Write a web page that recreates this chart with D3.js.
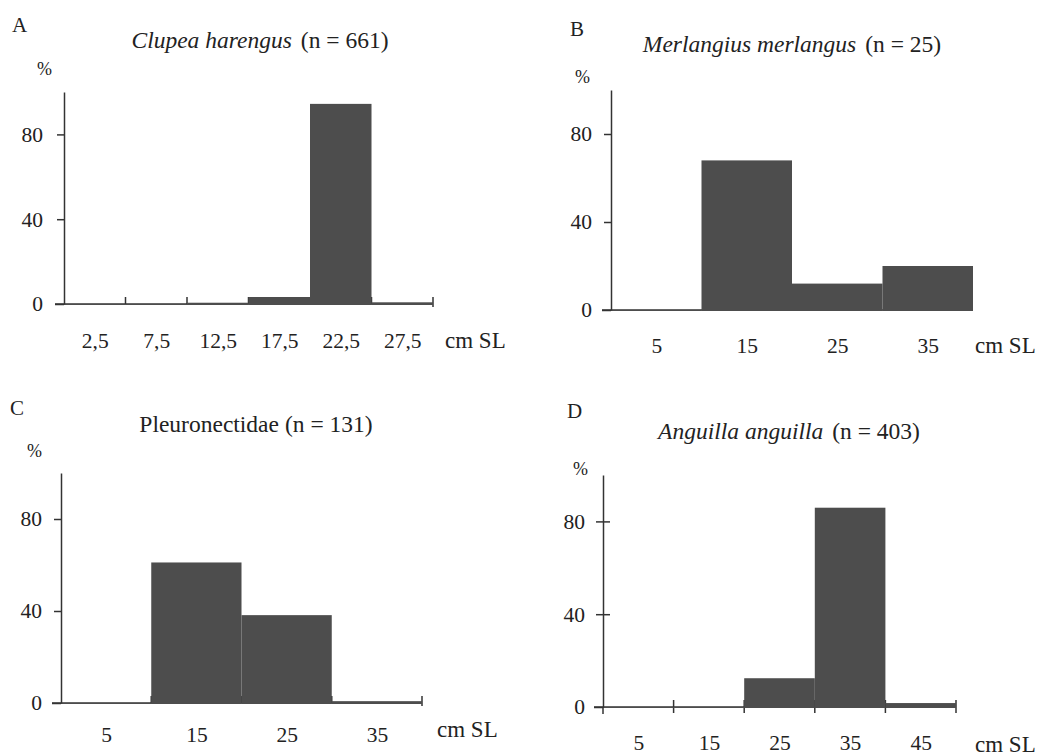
<!DOCTYPE html>
<html>
<head>
<meta charset="utf-8">
<script src="https://cdn.jsdelivr.net/npm/d3@7"></script>
<style>
  body { margin: 0; background: #fff; }
  svg text { font-family: "Liberation Serif", "Times New Roman", Times, "DejaVu Serif", serif; fill: #222; }
</style>
</head>
<body>
<div id="container"></div>
<script>
// data
var letters = ["A", "B", "C", "D"];
var species = ["Clupea harengus", "Merlangius merlangus", "Pleuronectidae", "Anguilla anguilla"];
var italicName = [true, true, false, true];
var counts = [661, 25, 131, 403];

var binsA = ["2,5", "7,5", "12,5", "17,5", "22,5", "27,5"];
var valuesA = [0, 0, 0.6, 3.3, 94.4, 0.8];
var binsB = ["5", "15", "25", "35"];
var valuesB = [0, 68, 12, 20];
var binsC = ["5", "15", "25", "35"];
var valuesC = [0, 61.1, 38.2, 0.8];
var binsD = ["5", "15", "25", "35", "45"];
var valuesD = [0, 0, 12.4, 85.9, 1.7];

var yTicks = [0, 40, 80];
var unitLabel = "cm SL";

var FONT = "'Liberation Serif', 'Times New Roman', Times, 'DejaVu Serif', serif";

width = 1060;
height = 756;

// layout of each panel: y axis x, zero line y, 100% line y, right end of x axis
var layout = [
  { x0: 64, xEnd: 433, y0: 304, yTop: 92, letter: [12, 32], title: [260, 48], pct: [37, 75], lab: 348, unit: [445, 348], pctGap: 21, ticks: "up", yTickCross: false },
  { x0: 611, xEnd: 973, y0: 310, yTop: 90, letter: [570, 36], title: [792, 52], pct: [575, 83], lab: 353, unit: [975, 353], pctGap: 19, ticks: "none", yTickCross: false },
  { x0: 61, xEnd: 422, y0: 703, yTop: 473, letter: [10, 415], title: [256, 432], pct: [27, 457], lab: 742, unit: [437, 737], pctGap: 19, ticks: "up", yTickCross: false },
  { x0: 603, xEnd: 956, y0: 707, yTop: 475, letter: [567, 418], title: [789, 439], pct: [573, 475], lab: 750, unit: [975, 752], pctGap: 18, ticks: "cross", yTickCross: true }
];

var allBins = [binsA, binsB, binsC, binsD];
var allValues = [valuesA, valuesB, valuesC, valuesD];

var svg = d3.select("#container").append("svg")
  .attr("width", width)
  .attr("height", height)
  .attr("font-family", FONT);

layout.forEach(function(L, i) {
  var bins = allBins[i];
  var vals = allValues[i];
  var g = svg.append("g");

  var x = d3.scaleLinear().domain([0, bins.length]).range([L.x0, L.xEnd]);
  var y = d3.scaleLinear().domain([0, 100]).range([L.y0, L.yTop]);

  // panel letter
  g.append("text")
    .attr("x", L.letter[0]).attr("y", L.letter[1])
    .style("font-size", "21px")
    .text(letters[i]);

  // title
  var t = g.append("text")
    .attr("x", L.title[0]).attr("y", L.title[1])
    .attr("text-anchor", "middle")
    .style("font-size", "23.5px");
  t.append("tspan")
    .style("font-style", italicName[i] ? "italic" : "normal")
    .text(species[i]);
  t.append("tspan")
    .attr("dx", italicName[i] ? 9 : 6)
    .text("(n = " + counts[i] + ")");

  // percent label
  g.append("text")
    .attr("x", L.pct[0]).attr("y", L.pct[1])
    .style("font-size", "18px")
    .text("%");

  // x ticks at bin edges (drawn before bars so bars hide them)
  var edges = d3.range(1, bins.length + 1);
  if (L.ticks !== "none") {
    g.selectAll(".xt")
      .data(edges)
      .enter().append("line")
      .attr("x1", function(d) { return x(d); })
      .attr("x2", function(d) { return x(d); })
      .attr("y1", function(d) { return L.ticks === "cross" ? L.y0 + 6 : L.y0 + (d === bins.length ? 3 : 0); })
      .attr("y2", L.y0 - 7)
      .attr("stroke", "#333")
      .attr("stroke-width", 1.5);
  }

  // baseline
  g.append("line")
    .attr("x1", L.x0 - 9).attr("x2", L.xEnd)
    .attr("y1", L.y0).attr("y2", L.y0)
    .attr("stroke", "#333")
    .attr("stroke-width", 1.5);

  // bars
  g.selectAll(".bar")
    .data(vals)
    .enter().append("rect")
    .attr("x", function(d, j) { return x(j); })
    .attr("width", function(d, j) { return x(j + 1) - x(j); })
    .attr("y", function(d) { return y(d); })
    .attr("height", function(d) { return L.y0 - y(d) + 1; })
    .attr("fill", "#4d4d4d");

  // y axis
  var yAxis = d3.axisLeft(y)
    .tickValues(yTicks)
    .tickSize(7)
    .tickSizeOuter(0)
    .tickPadding(L.pctGap - 7)
    .tickFormat(d3.format("d"));
  var ya = g.append("g")
    .attr("transform", "translate(" + L.x0 + ",0)")
    .call(yAxis)
    .attr("font-family", FONT);
  ya.select(".domain").attr("stroke", "#333").attr("stroke-width", 1.5);
  ya.selectAll(".tick line")
    .attr("stroke", "#333").attr("stroke-width", 1.5)
    .attr("x2", function(d) { return d === 0 ? -9 : -7; })
    .attr("x1", function(d) { return L.yTickCross && d !== 0 ? 7 : 0; });
  ya.selectAll(".tick text")
    .style("font-size", "21.5px")
    .attr("fill", "#222");

  // D: origin tick runs below the axis too
  if (L.yTickCross) {
    g.append("line")
      .attr("x1", L.x0).attr("x2", L.x0)
      .attr("y1", L.y0).attr("y2", L.y0 + 7)
      .attr("stroke", "#333").attr("stroke-width", 1.5);
  }

  // x labels at bin centres
  var xAxis = d3.axisBottom(x)
    .tickValues(d3.range(bins.length).map(function(j) { return j + 0.5; }))
    .tickSize(0)
    .tickFormat(function(d) { return bins[Math.floor(d)]; });
  var xa = g.append("g")
    .attr("transform", "translate(0," + L.y0 + ")")
    .call(xAxis)
    .attr("font-family", FONT);
  xa.select(".domain").remove();
  xa.selectAll(".tick text")
    .attr("y", L.lab - L.y0)
    .attr("dy", 0)
    .style("font-size", "21.5px")
    .attr("fill", "#222");

  // unit
  g.append("text")
    .attr("x", L.unit[0]).attr("y", L.unit[1])
    .style("font-size", "23px")
    .text(unitLabel);
});
</script>
</body>
</html>
